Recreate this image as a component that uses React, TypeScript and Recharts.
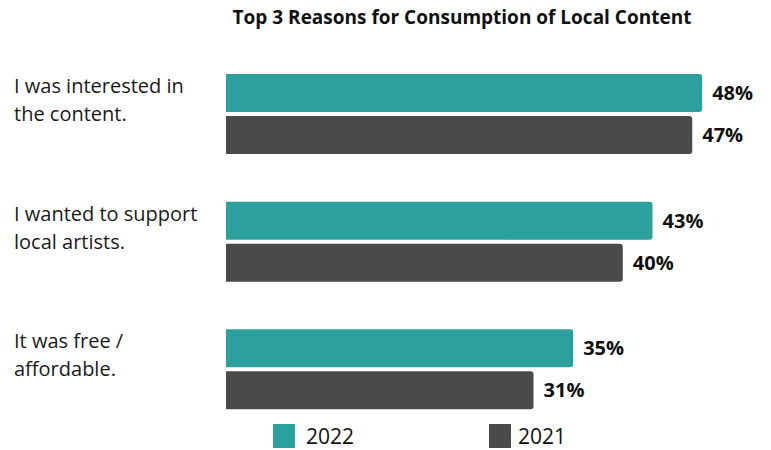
import { BarChart, Bar, XAxis, YAxis, LabelList } from 'recharts';

const reasons = [
  'I was interested in\nthe content.',
  'I wanted to support\nlocal artists.',
  'It was free /\naffordable.',
];
const values2022 = [48, 43, 35];
const values2021 = [47, 40, 31];

const seriesNames = ['2022', '2021'];
const seriesColors = ['#2ca09c', '#4a4a4a'];

const title = 'Top 3 Reasons for Consumption of Local Content';

const data = reasons.map((reason, i) => ({
  reason,
  y2022: values2022[i],
  y2021: values2021[i],
}));

const FONT = '"Open Sans", sans-serif';

// left-aligned, two-line category labels
const ReasonTick = ({ y, payload }: any) => {
  const lines = String(payload.value).split('\n');
  return (
    <text x={14} y={y - 21} fill="#1a1a1a" fontSize={20} fontFamily={FONT} textAnchor="start">
      {lines.map((line, i) => (
        <tspan key={i} x={14} dy={i === 0 ? 0 : 28}>
          {line}
        </tspan>
      ))}
    </text>
  );
};

function App() {
  return (
    <div style={{ position: 'absolute', left: 0, top: 0, width: 771, height: 450, background: '#fff', fontFamily: FONT }}>
      <div
        style={{
          position: 'absolute',
          left: 162,
          top: 4,
          width: 600,
          textAlign: 'center',
          fontSize: 19,
          lineHeight: '26px',
          fontWeight: 700,
          color: '#111',
        }}
      >
        {title}
      </div>
      <BarChart
        width={771}
        height={450}
        data={data}
        layout="vertical"
        margin={{ top: 50, right: 49, bottom: 17, left: 0 }}
        barSize={38}
        barGap={4}
      >
        <XAxis type="number" domain={[0, 50]} hide />
        <YAxis
          type="category"
          dataKey="reason"
          width={226}
          axisLine={false}
          tickLine={false}
          tick={<ReasonTick />}
        />
        <Bar dataKey="y2022" fill={seriesColors[0]} radius={[0, 3, 3, 0]} isAnimationActive={false}>
          <LabelList
            dataKey="y2022"
            position="right"
            offset={10}
            formatter={(v: any) => `${v}%`}
            style={{ fontSize: 20, fontWeight: 700, fill: '#111', fontFamily: FONT }}
          />
        </Bar>
        <Bar dataKey="y2021" fill={seriesColors[1]} radius={[0, 3, 3, 0]} isAnimationActive={false}>
          <LabelList
            dataKey="y2021"
            position="right"
            offset={10}
            formatter={(v: any) => `${v}%`}
            style={{ fontSize: 20, fontWeight: 700, fill: '#111', fontFamily: FONT }}
          />
        </Bar>
      </BarChart>
      {seriesNames.map((name, i) => (
        <div
          key={name}
          style={{
            position: 'absolute',
            left: i === 0 ? 273 : 489,
            top: 424,
            height: 24,
            display: 'flex',
            alignItems: 'center',
            fontSize: 21,
            lineHeight: '24px',
            color: '#111',
          }}
        >
          <span style={{ display: 'inline-block', width: 22, height: 24, background: seriesColors[i], marginRight: i === 0 ? 11 : 7 }} />
          {name}
        </div>
      ))}
    </div>
  );
}

export default App;
